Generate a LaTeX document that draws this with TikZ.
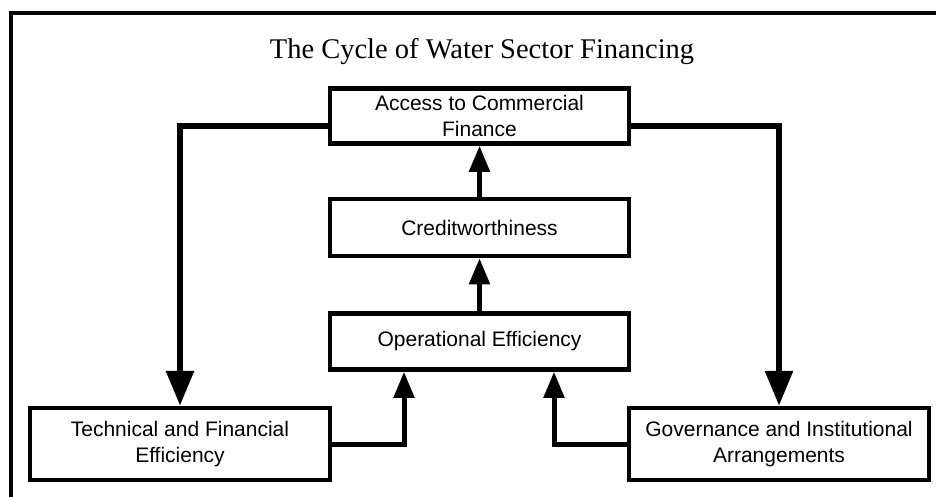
\documentclass[tikz,border=0pt]{standalone}
\usepackage{fontspec}
\setmainfont{Liberation Serif}
\setsansfont{Liberation Sans}
\usetikzlibrary{arrows.meta}
\tikzset{
  box/.style={draw, line width=4.5pt, fill=white, inner sep=0pt, align=center,
    font=\sffamily\fontsize{21}{26}\selectfont},
  conn/.style={line width=5pt, line join=miter},
  smallarr/.style={conn, -{Triangle[length=26pt, width=20pt]}},
  bigarr/.style={line width=6pt, line join=miter, -{Triangle[length=35pt, width=27pt]}},
  frameline/.style={line width=4.5pt, line join=miter},
  titletext/.style={font=\rmfamily\fontsize{28.5}{34}\selectfont, anchor=base}
}
\begin{document}
\begin{tikzpicture}[x=1pt, y=-1pt]
\useasboundingbox (0,0) rectangle (936,496);
\fill[white] (0,0) rectangle (936,496);
\coordinate (fb) at (11,510);
\coordinate (fc) at (11,13);
\coordinate (fr) at (950,13);
\draw[frameline] (fb) -- (fc) -- (fr);

\node[titletext] (title) at (482,58) {The Cycle of Water Sector Financing};

\node[box, minimum width=299pt, minimum height=55pt] (acc) at (479.5,116) {Access to Commercial\\Finance};
\node[box, minimum width=299pt, minimum height=57pt] (cred) at (479.5,227.5) {Creditworthiness};
\node[box, minimum width=299pt, minimum height=56pt] (op) at (479.5,341.5) {Operational Efficiency};
\node[box, minimum width=300pt, minimum height=72pt] (tech) at (180,444) {Technical and Financial\\Efficiency};
\node[box, minimum width=300pt, minimum height=72pt] (gov) at (779,444) {Governance and Institutional\\Arrangements};

\draw[smallarr] (cred.north) -- (acc.south);
\draw[smallarr] (op.north) -- (cred.south);

\coordinate (lc) at (180,126);
\coordinate (rc) at (779,126);
\draw[bigarr] ([yshift=-10pt]acc.west) -- (lc) -- (lc |- tech.north);
\draw[bigarr] ([yshift=-10pt]acc.east) -- (rc) -- (rc |- gov.north);

\coordinate (bl) at (404,444);
\coordinate (br) at (554,444);
\draw[smallarr] (tech.east) -- (bl) -- (bl |- op.south);
\draw[smallarr] (gov.west) -- (br) -- (br |- op.south);
\end{tikzpicture}
\end{document}
